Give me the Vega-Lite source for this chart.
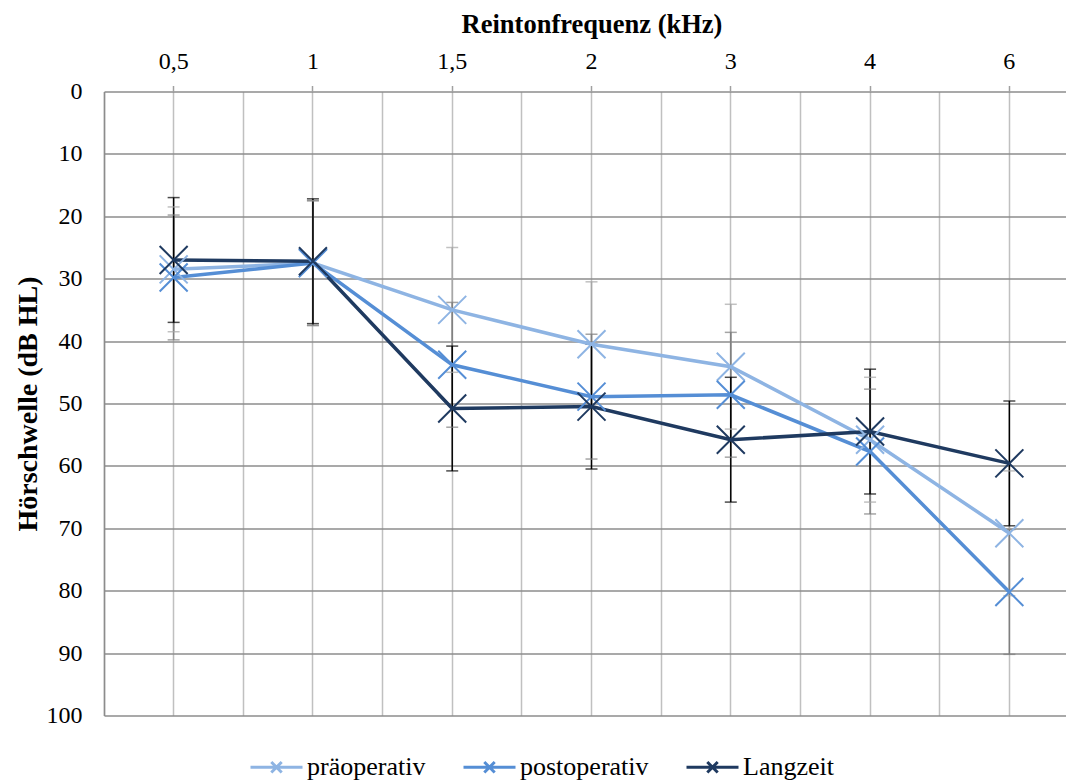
{
  "$schema": "https://vega.github.io/schema/vega-lite/v6.json",
  "width": 962,
  "height": 624,
  "autosize": {"type": "none"},
  "padding": {"left": 104, "top": 91.5, "right": 0, "bottom": 67.5},
  "background": "white",
  "config": {
    "font": "Liberation Serif",
    "view": {"stroke": null}
  },
  "data": {
    "values": [
      {"freq": "0,5", "series": "präoperativ", "value": 28.5, "lo": 18.5, "hi": 38.5},
      {"freq": "1", "series": "präoperativ", "value": 27.5, "lo": 17.5, "hi": 37.5},
      {"freq": "1,5", "series": "präoperativ", "value": 35.0, "lo": 25.0, "hi": 45.0},
      {"freq": "2", "series": "präoperativ", "value": 40.5, "lo": 30.5, "hi": 50.5},
      {"freq": "3", "series": "präoperativ", "value": 44.1, "lo": 34.1, "hi": 54.1},
      {"freq": "4", "series": "präoperativ", "value": 55.8, "lo": 45.8, "hi": 65.8},
      {"freq": "6", "series": "präoperativ", "value": 70.8, "lo": 60.8, "hi": 80.8},
      {"freq": "0,5", "series": "postoperativ", "value": 29.8, "lo": 19.8, "hi": 39.8},
      {"freq": "1", "series": "postoperativ", "value": 27.5, "lo": 17.5, "hi": 37.5},
      {"freq": "1,5", "series": "postoperativ", "value": 43.8, "lo": 33.8, "hi": 53.8},
      {"freq": "2", "series": "postoperativ", "value": 48.9, "lo": 38.9, "hi": 58.9},
      {"freq": "3", "series": "postoperativ", "value": 48.6, "lo": 38.6, "hi": 58.6},
      {"freq": "4", "series": "postoperativ", "value": 57.7, "lo": 47.7, "hi": 67.7},
      {"freq": "6", "series": "postoperativ", "value": 80.2, "lo": 70.2, "hi": 90.2},
      {"freq": "0,5", "series": "Langzeit", "value": 27.0, "lo": 17.0, "hi": 37.0},
      {"freq": "1", "series": "Langzeit", "value": 27.2, "lo": 17.2, "hi": 37.2},
      {"freq": "1,5", "series": "Langzeit", "value": 50.8, "lo": 40.8, "hi": 60.8},
      {"freq": "2", "series": "Langzeit", "value": 50.5, "lo": 40.5, "hi": 60.5},
      {"freq": "3", "series": "Langzeit", "value": 55.8, "lo": 45.8, "hi": 65.8},
      {"freq": "4", "series": "Langzeit", "value": 54.5, "lo": 44.5, "hi": 64.5},
      {"freq": "6", "series": "Langzeit", "value": 59.6, "lo": 49.6, "hi": 69.6}
    ]
  },
  "resolve": {"axis": {"x": "independent"}},
  "layer": [
    {
      "mark": {"type": "rule", "strokeWidth": 1.5},
      "encoding": {
        "x": {
          "field": "freq", "type": "nominal",
          "sort": ["0,5", "1", "1,5", "2", "3", "4", "6"],
          "scale": {"type": "band", "paddingInner": 0, "paddingOuter": 0, "range": [0, 975]},
          "axis": {"orient": "bottom", "bandPosition": 0, "labels": false, "ticks": false, "domain": false, "grid": true, "gridColor": "#c0c0c0", "gridWidth": 1.5, "title": null}
        },
        "y": {
          "field": "lo", "type": "quantitative",
          "scale": {"domain": [0, 100], "reverse": true, "nice": false, "zero": false},
          "axis": {
            "values": [0, 10, 20, 30, 40, 50, 60, 70, 80, 90, 100],
            "grid": true, "gridColor": "#8c8c8c", "gridWidth": 1.5,
            "ticks": false, "tickSize": 0, "labelPadding": 22,
            "labelFontSize": 24, "labelColor": "#000000",
            "domain": true, "domainColor": "#8c8c8c", "domainWidth": 1.5,
            "title": "Hörschwelle (dB HL)", "titleFontSize": 28, "titleFontWeight": "bold", "titleColor": "#000000",
            "titleAngle": -90, "titleBaseline": "alphabetic", "titleX": -68, "titleY": 312, "titleAlign": "center"
          }
        },
        "y2": {"field": "hi"},
        "stroke": {
          "condition": [
            {"test": "datum.series === 'Langzeit'", "value": "#000000"},
            {"test": "datum.series === 'postoperativ'", "value": "#7f7f7f"}
          ],
          "value": "#a6a6a6"
        }
      }
    },
    {
      "encoding": {
        "x": {
          "field": "freq", "type": "nominal",
          "sort": ["0,5", "1", "1,5", "2", "3", "4", "6"],
          "axis": {
            "orient": "top", "labelAngle": 0, "labelFontSize": 24, "labelColor": "#000000",
            "ticks": true, "tickSize": 6, "tickColor": "#a0a0a0", "tickWidth": 1.5, "labelPadding": 12,
            "grid": true, "gridColor": "#c0c0c0", "gridWidth": 1.5, "domain": false,
            "title": "Reintonfrequenz (kHz)", "titleFontSize": 26.5, "titleFontWeight": "bold", "titleColor": "#000000",
            "titleBaseline": "alphabetic", "titleY": -59.5
          }
        }
      },
      "layer": [
        {
          "mark": {"type": "tick", "orient": "horizontal", "size": 12, "thickness": 1.5},
          "encoding": {
            "y": {"field": "lo", "type": "quantitative"},
            "fill": {
              "condition": [
                {"test": "datum.series === 'Langzeit'", "value": "#000000"},
                {"test": "datum.series === 'postoperativ'", "value": "#7f7f7f"}
              ],
              "value": "#a6a6a6"
            }
          }
        },
        {
          "mark": {"type": "tick", "orient": "horizontal", "size": 12, "thickness": 1.5},
          "encoding": {
            "y": {"field": "hi", "type": "quantitative"},
            "fill": {
              "condition": [
                {"test": "datum.series === 'Langzeit'", "value": "#000000"},
                {"test": "datum.series === 'postoperativ'", "value": "#7f7f7f"}
              ],
              "value": "#a6a6a6"
            }
          }
        },
        {
          "mark": {"type": "line", "strokeWidth": 3.5},
          "encoding": {
            "y": {"field": "value", "type": "quantitative"},
            "color": {
              "field": "series", "type": "nominal",
              "scale": {"domain": ["präoperativ", "postoperativ", "Langzeit"], "range": ["#8eb4e3", "#558ed5", "#1f3a60"]},
              "legend": {
                "title": null, "orient": "none", "legendX": 145, "legendY": 648, "direction": "horizontal",
                "symbolType": "M-1,0L1,0M-0.2,-0.2L0.2,0.2M-0.2,0.2L0.2,-0.2",
                "symbolSize": 2704, "symbolStrokeWidth": 3,
                "labelFontSize": 26, "labelColor": "#000000", "labelOffset": 3, "columnPadding": 31, "padding": 0
              }
            }
          }
        },
        {
          "mark": {"type": "point", "shape": "M-1,-1L1,1M-1,1L1,-1", "filled": false, "strokeWidth": 2, "size": 784, "opacity": 1},
          "encoding": {
            "y": {"field": "value", "type": "quantitative"},
            "color": {"field": "series", "type": "nominal"}
          }
        }
      ]
    }
  ]
}
